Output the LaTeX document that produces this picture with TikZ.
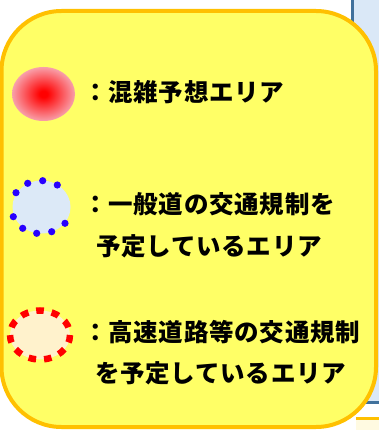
\documentclass[tikz,border=0pt]{standalone}
\usepackage{fontspec}
\newfontfamily\jpfont{Noto Sans CJK JP}[LetterSpace=3]
\definecolor{boxfill}{RGB}{255,255,102}
\definecolor{boxline}{RGB}{255,192,0}
\definecolor{spotedge}{RGB}{248,160,170}
\definecolor{bluefill}{RGB}{220,233,247}
\definecolor{bluedot}{RGB}{40,0,255}
\definecolor{creamfill}{RGB}{255,242,204}
\definecolor{dashred}{RGB}{255,0,0}
\definecolor{backblue}{RGB}{218,232,247}
\definecolor{backblueline}{RGB}{65,113,156}
\definecolor{palefill}{RGB}{255,250,225}
\pgfdeclareradialshading{redspot}{\pgfpoint{0bp}{0bp}}{color(0bp)=(red); color(3bp)=(red); color(25bp)=(spotedge); color(50bp)=(spotedge)}
\tikzset{
  legendtext/.style={font=\jpfont\bfseries\fontsize{24.5}{28}\selectfont, anchor=west, inner sep=0pt, text=black},
  bluespot/.style={fill=bluedot, draw=none}
}
\begin{document}
\begin{tikzpicture}[x=1pt,y=-1pt]
\useasboundingbox (0,0) rectangle (379,430);
% background fragments
\fill[backblue] (352.5,-5) rectangle (390,402);
\draw[backblueline, line width=3pt] (352.5,-5) -- (352.5,402) -- (390,402);
\fill[palefill] (356,418.5) rectangle (390,440);
\draw[boxline, line width=3pt] (356,418.5) -- (390,418.5);
% main box
\draw[boxline, fill=boxfill, line width=4pt, rounded corners=60pt] (1.5,11) rectangle (376,427);
% red spot
\shade[shading=redspot] (43.5,94) ellipse [x radius=31.5, y radius=27];
% blue dotted
\fill[bluefill] (41.5,207) ellipse [x radius=29, y radius=26.5];
\foreach \px/\py in {42.7/180.7, 27.7/183.3, 16/192.7, 13.3/216.7, 22.7/228.3, 36.7/233.3, 51.7/231.7, 65/223.3, 57.3/185}
  \fill[bluespot] (\px,\py) circle (3.6);
% red dashed
\draw[dashred, fill=creamfill, line width=6.5pt, dash pattern=on 7.6pt off 8pt] (40,335) ellipse [x radius=30, y radius=24.5];
% texts
\node[legendtext] (t1) at (83,92.5) {：混雑予想エリア};
\node[legendtext] (t2) at (83,204) {：一般道の交通規制を};
\node[legendtext] (t3) at (96,246) {予定しているエリア};
\node[legendtext] (t4) at (83,332) {：高速道路等の交通規制};
\node[legendtext] (t5) at (95,373) {を予定しているエリア};
\end{tikzpicture}
\end{document}
